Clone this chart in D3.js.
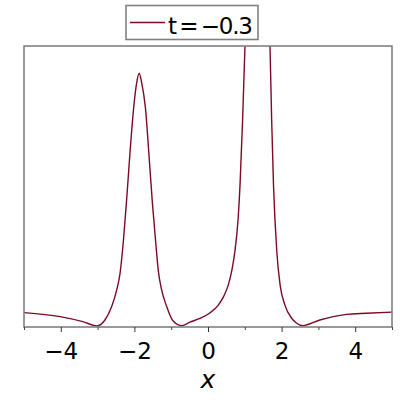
<!DOCTYPE html>
<html>
<head>
<meta charset="utf-8">
<script src="https://cdn.jsdelivr.net/npm/d3@7"></script>
<style>
  html, body { margin: 0; padding: 0; background: #fff; }
  svg { display: block; font-family: "DejaVu Sans", sans-serif; }
</style>
</head>
<body>
<svg id="chart" width="400" height="400"></svg>
<script>
// values (y in arbitrary units, 0..1 is the visible frame)
const xValues = [
  -5.00, -4.02, -3.40, -3.02, -2.80, -2.62, -2.48, -2.39, -2.30, -2.21,
  -2.12, -2.02, -1.94, -1.87, -1.80, -1.70, -1.60, -1.51, -1.42, -1.35,
  -1.26, -1.12, -0.97, -0.87, -0.71, -0.49, -0.22, 0.05, 0.28, 0.43,
  0.55, 0.65, 0.73, 0.82, 0.87, 0.94, 1.005, 1.10, 1.20, 1.35,
  1.50, 1.60, 1.685, 1.73, 1.78, 1.87, 1.96, 2.09, 2.27, 2.40,
  2.57, 3.04, 3.40, 3.77, 4.31, 4.99
];
const yValues = [
  0.051, 0.037, 0.019, 0.004, 0.025, 0.072, 0.132, 0.191, 0.305, 0.455,
  0.620, 0.780, 0.868, 0.903, 0.868, 0.780, 0.605, 0.440, 0.300, 0.200,
  0.132, 0.072, 0.025, 0.012, 0.005, 0.017, 0.031, 0.050, 0.078, 0.110,
  0.149, 0.203, 0.268, 0.388, 0.505, 0.737, 1.000, 1.500, 1.900, 2.100,
  1.900, 1.500, 1.000, 0.737, 0.505, 0.268, 0.149, 0.078, 0.032, 0.014,
  0.005, 0.025, 0.037, 0.045, 0.049, 0.053
];
const majorTicks = [-4, -2, 0, 2, 4];
const minorTicks = [-5, -3, -1, 1, 3, 5];
const legendLabel = 't\u2009=\u2009\u22120.3';
const axisLabel = 'x';

const curveColor = '#7d0a25';
const frameColor = '#808080';

const frame = { left: 24, right: 392, top: 46, bottom: 327 };

const svg = d3.select('#chart');

const xScale = d3.scaleLinear().domain([-5, 5]).range([frame.left, frame.right]);
const yScale = d3.scaleLinear().domain([0, 1]).range([frame.bottom, frame.top]);

const points = xValues.map((x, i) => [x, yValues[i]]);

// the tall peak leaves the frame, so clip to it
svg.append('clipPath').attr('id', 'plotclip')
  .append('rect')
  .attr('x', frame.left)
  .attr('y', frame.top)
  .attr('width', frame.right - frame.left)
  .attr('height', frame.bottom - frame.top);

const line = d3.line()
  .x(d => xScale(d[0]))
  .y(d => yScale(d[1]))
  .curve(d3.curveMonotoneX);

svg.append('path')
  .datum(points)
  .attr('clip-path', 'url(#plotclip)')
  .attr('fill', 'none')
  .attr('stroke', curveColor)
  .attr('stroke-width', 1.4)
  .attr('d', line);

// frame
svg.append('rect')
  .attr('x', frame.left)
  .attr('y', frame.top)
  .attr('width', frame.right - frame.left)
  .attr('height', frame.bottom - frame.top)
  .attr('fill', 'none')
  .attr('stroke', frameColor)
  .attr('stroke-width', 1.6);

// minor ticks
svg.append('g')
  .attr('transform', `translate(0,${frame.bottom})`)
  .call(d3.axisBottom(xScale).tickValues(minorTicks).tickSize(3).tickFormat(''))
  .call(g => g.select('.domain').remove())
  .call(g => g.selectAll('line').attr('stroke', '#444'));

// major ticks with labels
svg.append('g')
  .attr('transform', `translate(0,${frame.bottom})`)
  .call(d3.axisBottom(xScale).tickValues(majorTicks).tickSize(5).tickPadding(11))
  .call(g => g.select('.domain').remove())
  .call(g => g.selectAll('line').attr('stroke', '#333'))
  .call(g => g.selectAll('text')
    .attr('font-family', '"DejaVu Sans", sans-serif')
    .attr('font-size', 23)
    .attr('fill', '#000'));

svg.append('text')
  .attr('x', xScale(0))
  .attr('y', 388)
  .attr('text-anchor', 'middle')
  .attr('font-size', 25)
  .attr('font-style', 'italic')
  .text(axisLabel);

// legend
const legend = svg.append('g');
legend.append('rect')
  .attr('x', 126)
  .attr('y', 5.5)
  .attr('width', 132)
  .attr('height', 34)
  .attr('fill', '#fff')
  .attr('stroke', frameColor)
  .attr('stroke-width', 1.6);
legend.append('line')
  .attr('x1', 130).attr('x2', 165)
  .attr('y1', 22.5).attr('y2', 22.5)
  .attr('stroke', curveColor)
  .attr('stroke-width', 1.4);
legend.append('text')
  .attr('x', 168)
  .attr('y', 33.5)
  .attr('font-size', 23)
  .attr('textLength', 85)
  .attr('lengthAdjust', 'spacing')
  .text(legendLabel);
</script>
</body>
</html>
